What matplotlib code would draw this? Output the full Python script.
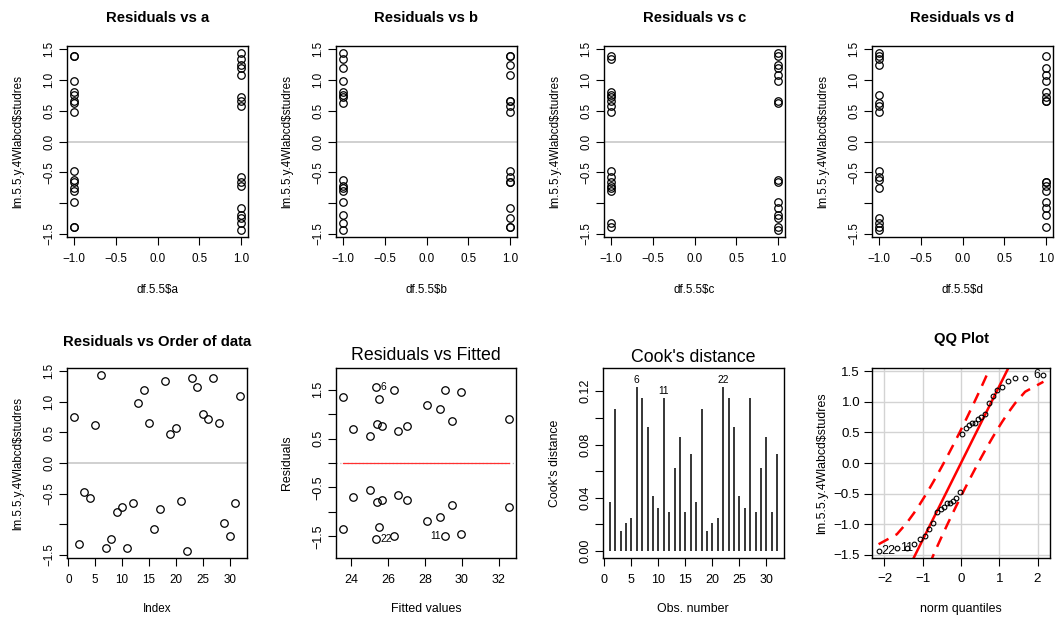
import matplotlib
matplotlib.use("Agg")
import matplotlib.pyplot as plt
import numpy as np
from statistics import NormalDist

plt.rcParams["font.family"] = ["Liberation Sans", "DejaVu Sans"]

W, H = 1057, 617

# studentized residuals, in order of the data
studres = [0.76, -1.33, -0.48, -0.57, 0.62, 1.44, -1.39, -1.24, -0.80, -0.72, -1.39, -0.66, 0.99, 1.19, 0.66, -1.08,
           -0.76, 1.34, 0.48, 0.57, -0.62, -1.44, 1.39, 1.24, 0.80, 0.72, 1.39, 0.66, -0.99, -1.19, -0.66, 1.09]

# 2^4 design, two replicates
fac_a = [-1, 1, -1, 1, -1, 1, -1, 1, -1, 1, -1, 1, -1, 1, -1, 1,
         -1, 1, -1, 1, -1, 1, -1, 1, -1, 1, -1, 1, -1, 1, -1, 1]
fac_b = [-1, -1, 1, 1, -1, -1, 1, 1, -1, -1, 1, 1, -1, -1, 1, 1,
         -1, -1, 1, 1, -1, -1, 1, 1, -1, -1, 1, 1, -1, -1, 1, 1]
fac_c = [-1, -1, -1, -1, 1, 1, 1, 1, -1, -1, -1, -1, 1, 1, 1, 1,
         -1, -1, -1, -1, 1, 1, 1, 1, -1, -1, -1, -1, 1, 1, 1, 1]
fac_d = [-1, -1, -1, -1, -1, -1, -1, -1, 1, 1, 1, 1, 1, 1, 1, 1,
         -1, -1, -1, -1, -1, -1, -1, -1, 1, 1, 1, 1, 1, 1, 1, 1]

# plot.lm values
fitted = [29.44, 29.93, 25.03, 26.54, 24.11, 25.35, 26.31, 23.53, 32.58, 25.39, 29.08, 27.05, 28.79, 25.51, 25.66, 28.09,
          29.44, 29.93, 25.03, 26.54, 24.11, 25.35, 26.31, 23.53, 32.58, 25.39, 29.08, 27.05, 28.79, 25.51, 25.66, 28.09]
resid = [0.85, -1.45, -0.55, -0.65, 0.705, 1.55, -1.50, -1.345, -0.895, -0.795, -1.50, -0.75, 1.10, 1.30, 0.75, -1.195,
         -0.85, 1.45, 0.55, 0.65, -0.705, -1.55, 1.50, 1.345, 0.895, 0.795, 1.50, 0.75, -1.10, -1.30, -0.75, 1.195]
cooks = [0.037, 0.107, 0.015, 0.021, 0.025, 0.123, 0.115, 0.093, 0.041, 0.032, 0.115, 0.029, 0.062, 0.086, 0.029, 0.073,
         0.037, 0.107, 0.015, 0.021, 0.025, 0.123, 0.115, 0.093, 0.041, 0.032, 0.115, 0.029, 0.062, 0.086, 0.029, 0.073]
flagged = [6, 11, 22]

YLAB = "lm.5.5.y.4Wlabcd$studres"
TICK_FS = 8.4
LAB_FS = 8.4


def make_ax(fig, l, t, r, b):
    ax = fig.add_axes([l / W, 1 - b / H, (r - l) / W, (b - t) / H])
    for s in ax.spines.values():
        s.set_linewidth(1.0)
    ax.tick_params(direction="out", length=5.5, width=0.8, labelsize=TICK_FS, pad=3)
    ax.tick_params(axis="x", pad=6)
    return ax


def rpad(lo, hi, f=0.04):
    d = (hi - lo) * f
    return lo - d, hi + d


def ftext(fig, x, y, s, **kw):
    fig.text(x / W, 1 - y / H, s, ha="center", va="center", **kw)


def studres_yaxis(ax):
    ax.set_ylim(*rpad(min(studres), max(studres)))
    ticks = [-1.5, -1.0, -0.5, 0.0, 0.5, 1.0, 1.5]
    ax.set_yticks(ticks)
    ax.set_yticklabels(["\u22121.5", "", "\u22120.5", "0.0", "0.5", "1.0", "1.5"],
                       rotation=90, va="center")


fig = plt.figure(figsize=(W / 100, H / 100), dpi=100)

# ---- row 1: residuals vs each factor ----
lefts = [67, 336, 604, 872]
for name, fac, l in zip("abcd", [fac_a, fac_b, fac_c, fac_d], lefts):
    ax = make_ax(fig, l, 46, l + 181, 237)
    ax.axhline(0, color="#c8c8c8", lw=1.2, zorder=1)
    ax.plot(fac, studres, "o", mfc="none", mec="black", ms=5.4, mew=0.9, zorder=2)
    ax.set_xlim(*rpad(-1, 1))
    ax.set_xticks([-1.0, -0.5, 0.0, 0.5, 1.0])
    ax.set_xticklabels(["\u22121.0", "\u22120.5", "0.0", "0.5", "1.0"])
    studres_yaxis(ax)
    cx = l + 90.5
    ftext(fig, cx, 18, f"Residuals vs {name}", fontsize=10.7, fontweight="bold")
    ftext(fig, cx, 290, f"df.5.5${name}", fontsize=LAB_FS)
    ftext(fig, l - 49, 141, YLAB, fontsize=LAB_FS, rotation=90)

# ---- residuals vs order ----
idx = np.arange(1, len(studres) + 1)
ax = make_ax(fig, 67, 368, 247, 558)
ax.axhline(0, color="#c8c8c8", lw=1.2, zorder=1)
ax.plot(idx, studres, "o", mfc="none", mec="black", ms=5.4, mew=0.9, zorder=2)
ax.set_xlim(*rpad(1, len(studres)))
ax.set_xticks([0, 5, 10, 15, 20, 25, 30])
studres_yaxis(ax)
ftext(fig, 157, 342, "Residuals vs Order of data", fontsize=10.7, fontweight="bold")
ftext(fig, 157, 609, "Index", fontsize=LAB_FS)
ftext(fig, 18, 463, YLAB, fontsize=LAB_FS, rotation=90)

# ---- residuals vs fitted (plot.lm which=1) ----
ax = make_ax(fig, 336, 368, 516, 558)
ax.tick_params(labelsize=9.0)
lo, hi = min(resid), max(resid)
ext = 0.08 * (hi - lo)
ax.set_ylim(*rpad(lo - ext, hi + ext))
ax.set_xlim(*rpad(min(fitted), max(fitted)))
ax.axhline(0, color="#bebebe", lw=0.9, ls=(0, (1, 2)), zorder=1)
ax.plot(fitted, resid, "o", mfc="none", mec="black", ms=5.4, mew=0.9, zorder=2)
ax.plot([min(fitted), max(fitted)], [np.mean(resid)] * 2, color="#ff3030", lw=0.9, zorder=3)
xmid = np.mean(ax.get_xlim())
for k in flagged:
    fx, ry = fitted[k - 1], resid[k - 1]
    if fx < xmid:
        ax.annotate(str(k), (fx, ry), xytext=(3, 0), textcoords="offset points",
                    ha="left", va="center", fontsize=7.4)
    else:
        ax.annotate(str(k), (fx, ry), xytext=(-3, 0), textcoords="offset points",
                    ha="right", va="center", fontsize=7.4)
ax.set_xticks([24, 26, 28, 30, 32])
ax.set_yticks([-1.5, -1.0, -0.5, 0.0, 0.5, 1.0, 1.5])
ax.set_yticklabels(["\u22121.5", "", "\u22120.5", "", "0.5", "", "1.5"], rotation=90, va="center")
ftext(fig, 426, 356, "Residuals vs Fitted", fontsize=12.8)
ftext(fig, 426, 609, "Fitted values", fontsize=LAB_FS + 0.5)
ftext(fig, 287, 463, "Residuals", fontsize=LAB_FS + 0.5, rotation=90)

# ---- Cook's distance (plot.lm which=4) ----
ax = make_ax(fig, 603, 368, 784, 558)
ax.tick_params(labelsize=9.0)
ax.vlines(idx, 0, cooks, color="black", lw=1.1)
ax.set_ylim(*rpad(0, max(cooks) * 1.075))
ax.set_xlim(*rpad(1, len(cooks)))
for k in flagged:
    ax.annotate(str(k), (k, cooks[k - 1]), xytext=(0, 1.5), textcoords="offset points",
                ha="center", va="bottom", fontsize=7.4)
ax.set_xticks([0, 5, 10, 15, 20, 25, 30])
ax.set_yticks([0.0, 0.02, 0.04, 0.06, 0.08, 0.10, 0.12])
ax.set_yticklabels(["0.00", "", "0.04", "", "0.08", "", "0.12"], rotation=90, va="center")
ftext(fig, 693, 357, "Cook's distance", fontsize=12.8)
ftext(fig, 693, 609, "Obs. number", fontsize=LAB_FS + 0.5)
ftext(fig, 555, 463, "Cook's distance", fontsize=LAB_FS + 0.5, rotation=90)

# ---- QQ plot (car::qqPlot) ----
nd = NormalDist()
n = len(studres)
order = np.argsort(studres)
ys = np.array(studres)[order]
P = (np.arange(1, n + 1) - 0.5) / n
z = np.array([nd.inv_cdf(p) for p in P])
q1, q3 = np.quantile(ys, [0.25, 0.75])
slope = (q3 - q1) / (nd.inv_cdf(0.75) - nd.inv_cdf(0.25))
icpt = q1 - slope * nd.inv_cdf(0.25)
se = slope / np.array([nd.pdf(v) for v in z]) * np.sqrt(P * (1 - P) / n)
zz = nd.inv_cdf(0.975)
fit_line = icpt + slope * z

ax = make_ax(fig, 872, 368, 1050, 558)
ax.tick_params(labelsize=9.6)
ax.tick_params(axis="x", pad=5)
ax.set_xlim(*rpad(z.min(), z.max()))
ax.set_ylim(*rpad(ys.min(), ys.max()))
for gx in [-2, -1, 0, 1, 2]:
    ax.axvline(gx, color="#d3d3d3", lw=1.0, zorder=0)
for gy in [-1.5, -1.0, -0.5, 0.0, 0.5, 1.0, 1.5]:
    ax.axhline(gy, color="#d3d3d3", lw=1.0, zorder=0)
ax.plot(z, ys, "o", mfc="none", mec="black", ms=3.4, mew=0.8, zorder=3)
xl = np.array(ax.get_xlim())
ax.plot(xl, icpt + slope * xl, color="red", lw=1.8, zorder=2)
ax.plot(z, fit_line + zz * se, color="red", lw=1.8, dashes=(4.5, 3.2), zorder=2)
ax.plot(z, fit_line - zz * se, color="red", lw=1.8, dashes=(4.5, 3.2), zorder=2)
ax.set_xlim(*xl)
ax.annotate("22", (z[0], ys[0]), xytext=(2, 0), textcoords="offset points",
            ha="left", va="center", fontsize=9)
ax.annotate("11", (z[1], ys[1]), xytext=(2, 0), textcoords="offset points",
            ha="left", va="center", fontsize=9)
ax.annotate("6", (z[-1], ys[-1]), xytext=(-2, 0), textcoords="offset points",
            ha="right", va="center", fontsize=9)
ax.set_xticks([-2, -1, 0, 1, 2])
ax.set_yticks([-1.5, -1.0, -0.5, 0.0, 0.5, 1.0, 1.5])
ax.set_yticklabels(["\u22121.5", "\u22121.0", "\u22120.5", "0.0", "0.5", "1.0", "1.5"])
ftext(fig, 961, 339, "QQ Plot", fontsize=10.7, fontweight="bold")
ftext(fig, 961, 609, "norm quantiles", fontsize=LAB_FS + 0.5)
ftext(fig, 822, 463, YLAB, fontsize=LAB_FS + 0.5, rotation=90)

fig.savefig("out.png", dpi=100)
